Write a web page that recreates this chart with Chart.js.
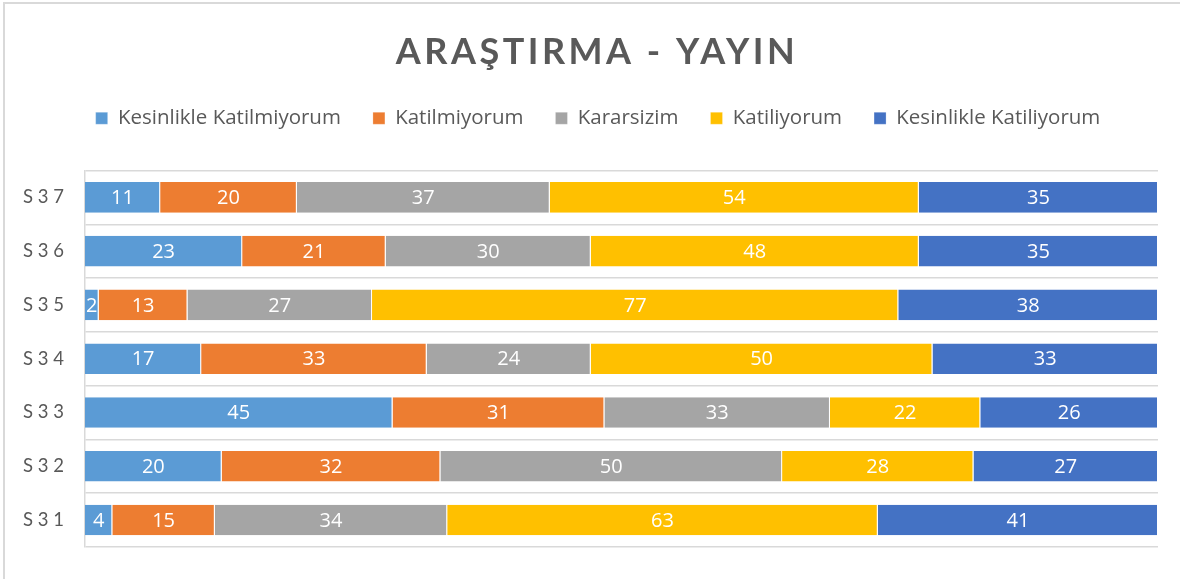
<!DOCTYPE html>
<html>
<head>
<meta charset="utf-8">
<script src="https://cdn.jsdelivr.net/npm/chart.js@4/dist/chart.umd.min.js"></script>
<style>
  body { margin: 0; background: #fff; }
  #frame { position: absolute; left: 3px; top: 2px; width: 1200px; height: 620px; border: 2px solid #d9d9d9; }
  #wrap { position: absolute; left: 0; top: 0; width: 1180px; height: 579px; }
</style>
</head>
<body>
<div id="frame"></div>
<div id="wrap"><canvas id="chart"></canvas></div>
<script>
// Araştırma - Yayın, S31..S37 (top to bottom S37 first)
const categories = ['S37', 'S36', 'S35', 'S34', 'S33', 'S32', 'S31'];
const seriesNames = ['Kesinlikle Katilmiyorum', 'Katilmiyorum', 'Kararsizim', 'Katiliyorum', 'Kesinlikle Katiliyorum'];
const kesinlikleKatilmiyorum = [11, 23, 2, 17, 45, 20, 4];
const katilmiyorum = [20, 21, 13, 33, 31, 32, 15];
const kararsizim = [37, 30, 27, 24, 33, 50, 34];
const katiliyorum = [54, 48, 77, 50, 22, 28, 63];
const kesinlikleKatiliyorum = [35, 35, 38, 33, 26, 27, 41];
const colors = ['#5B9BD5', '#ED7D31', '#A5A5A5', '#FFC000', '#4472C4'];

const seriesValues = [kesinlikleKatilmiyorum, katilmiyorum, kararsizim, katiliyorum, kesinlikleKatiliyorum];
const rowTotal = Math.max(...categories.map((c, i) => seriesValues.reduce((s, arr) => s + arr[i], 0)));

const FONT = '"Open Sans", sans-serif';
const TITLE_FONT = 'Lato, "Open Sans", sans-serif';

// values in the middle of each segment
const barLabels = {
    id: 'barLabels',
    afterDatasetsDraw(chart) {
        const ctx = chart.ctx;
        ctx.save();
        ctx.fillStyle = '#ffffff';
        ctx.font = '20px ' + FONT;
        ctx.textAlign = 'center';
        ctx.textBaseline = 'middle';
        chart.data.datasets.forEach((ds, di) => {
            chart.getDatasetMeta(di).data.forEach((bar, i) => {
                const p = bar.getProps(['x', 'y', 'base'], true);
                ctx.fillText(ds.data[i], (p.x + p.base) / 2, p.y + 1);
            });
        });
        ctx.restore();
    }
};

// title with letter spacing
const spacedTitle = {
    id: 'spacedTitle',
    afterDraw(chart) {
        const ctx = chart.ctx;
        ctx.save();
        ctx.letterSpacing = '3.5px';
        ctx.fillStyle = '#595959';
        ctx.font = 'bold 36px ' + TITLE_FONT;
        ctx.textAlign = 'center';
        ctx.textBaseline = 'middle';
        ctx.fillText('ARAŞTIRMA - YAYIN', 597, 52);
        ctx.restore();
    }
};

// more room between legend and plot, legend centred on the whole frame
const legendTweak = {
    id: 'legendTweak',
    beforeInit(chart) {
        const legend = chart.legend;
        const fit = legend.fit;
        legend.fit = function() {
            fit.call(this);
            this.height += 32;
        };
        const draw = legend.draw;
        legend.draw = function() {
            const ctx = this.ctx;
            ctx.save();
            ctx.translate(18, 0);
            draw.call(this);
            ctx.restore();
        };
    }
};

new Chart(document.getElementById('chart'), {
    type: 'bar',
    data: {
        labels: categories,
        datasets: seriesNames.map((name, k) => ({
            label: name,
            data: seriesValues[k],
            backgroundColor: colors[k],
            borderColor: '#ffffff',
            borderWidth: { left: 0, right: 1, top: 0, bottom: 0 },
            borderSkipped: false,
            categoryPercentage: 1,
            barPercentage: 0.57
        }))
    },
    options: {
        indexAxis: 'y',
        responsive: true,
        maintainAspectRatio: false,
        animation: false,
        layout: { padding: { top: 76, left: 2, right: 22, bottom: 22 } },
        plugins: {
            legend: {
                position: 'top',
                labels: {
                    color: '#595959',
                    font: { family: FONT, size: 20.5 },
                    boxWidth: 12,
                    boxHeight: 12,
                    padding: 32
                }
            },
            tooltip: { enabled: false }
        },
        scales: {
            x: {
                stacked: true,
                display: false,
                min: 0,
                max: rowTotal
            },
            y: {
                stacked: true,
                grid: { color: '#d9d9d9', lineWidth: 1.5, drawTicks: false },
                border: { color: '#d9d9d9', width: 1.5 },
                ticks: {
                    color: '#595959',
                    font: { family: TITLE_FONT, size: 18.5 },
                    padding: 21,
                    callback: function(value) {
                        return this.getLabelForValue(value).split('').join(' ');
                    }
                }
            }
        }
    },
    plugins: [barLabels, spacedTitle, legendTweak]
});
</script>
</body>
</html>
